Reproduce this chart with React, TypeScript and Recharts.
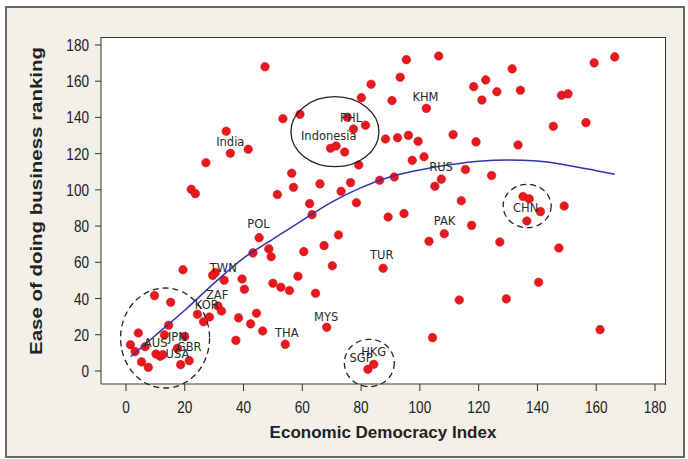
import React from "react";
import { ScatterChart, Scatter, XAxis, YAxis, ReferenceDot } from "recharts";

// Economic Democracy Index (x) vs Ease of doing business ranking (y)
const pointsX = [
  47.3, 53.4, 59.2, 34.1, 35.5, 41.6, 27.2, 22.2, 23.6, 56.4, 57.0, 51.5,
  95.4, 106.4, 93.3, 83.4, 118.3, 80.1, 90.5, 102.2, 75.3, 77.4, 81.5, 69.6,
  71.5, 74.4, 88.3, 92.4, 96.1, 99.4, 111.3, 119.1, 79.2, 97.4, 101.4, 115.5,
  66.0, 76.4, 86.3, 91.3, 73.2, 107.3, 105.1, 78.4, 62.5, 114.1, 166.3, 159.3,
  131.4, 122.4, 126.2, 121.1, 134.2, 148.2, 150.4, 145.4, 156.5, 133.4, 124.4, 135.1,
  137.2, 149.1, 141.0, 136.4, 117.6, 127.2, 147.3, 140.4, 129.4, 161.3, 63.3, 89.2,
  94.6, 108.3, 103.1, 72.3, 67.4, 60.5, 87.5, 70.2, 58.5, 52.7, 55.6, 64.5,
  113.4, 68.3, 54.2, 104.3, 82.3, 84.3, 45.3, 43.2, 48.6, 49.4, 19.4, 29.5,
  30.4, 33.4, 39.5, 40.3, 50.0, 9.7, 15.2, 24.3, 26.4, 28.4, 31.3, 32.5,
  38.3, 44.4, 42.4, 46.5, 37.4, 14.5, 4.2, 13.1, 20.0, 1.5, 6.5, 3.1,
  17.5, 10.2, 11.6, 12.5, 5.3, 7.6, 18.6, 21.5,
];
const pointsY = [
  168.0, 139.3, 141.7, 132.4, 120.2, 122.4, 115.0, 100.3, 97.9, 109.2, 101.4, 97.4,
  171.9, 173.9, 162.2, 158.3, 157.0, 150.9, 149.3, 145.0, 140.1, 133.6, 135.7, 123.0,
  124.2, 120.9, 128.1, 128.8, 130.1, 126.8, 130.5, 126.5, 113.7, 116.3, 118.3, 111.2,
  103.3, 104.0, 105.3, 107.1, 99.2, 105.9, 102.0, 92.9, 92.4, 94.0, 173.4, 170.1,
  166.8, 160.7, 154.2, 149.6, 155.0, 152.2, 153.0, 135.1, 137.1, 124.8, 107.9, 96.3,
  95.0, 91.1, 88.0, 82.8, 80.4, 71.2, 67.9, 49.0, 39.8, 22.8, 86.3, 85.0,
  86.9, 75.8, 71.6, 75.1, 69.2, 65.9, 56.7, 58.1, 52.3, 46.2, 44.4, 42.9,
  39.2, 24.1, 14.7, 18.4, 0.9, 3.7, 73.6, 65.2, 67.4, 63.1, 55.9, 52.8,
  54.3, 50.1, 50.8, 45.1, 48.4, 41.6, 37.9, 31.3, 27.2, 29.8, 35.9, 33.1,
  29.3, 31.9, 26.0, 22.1, 16.9, 25.2, 21.0, 19.9, 19.1, 14.5, 13.4, 10.7,
  12.5, 9.4, 8.1, 9.0, 5.0, 2.0, 3.5, 5.7,
];

// fitted trend curve
const fitX = [1.6, 10, 20, 30, 40, 50, 60, 70, 80, 90, 100, 110, 120, 130, 140, 150, 160, 166.3];
const fitY = [7.9, 19.6, 33.5, 48.5, 62.3, 72.8, 83.2, 93.2, 101.2, 107.2, 111.0, 113.8, 115.8, 116.5, 115.9, 113.6, 110.6, 108.6];

// country annotations
const labelNames = ["India", "Indonesia", "PHL", "KHM", "RUS", "CHN", "PAK", "TUR", "POL", "TWN", "ZAF", "KOR", "JPN", "AUS", "GBR", "USA", "THA", "MYS", "HKG", "SGP"];
const labelX = [35.5, 69.0, 76.6, 101.9, 107.2, 136.0, 108.4, 87.0, 45.1, 33.1, 31.0, 27.5, 17.5, 10.1, 21.5, 17.5, 54.7, 68.1, 84.3, 80.0];
const labelY = [126.6, 129.8, 139.5, 151.5, 112.8, 89.8, 82.8, 64.1, 81.2, 56.7, 42.0, 36.4, 18.9, 15.3, 13.1, 9.2, 20.8, 30.0, 10.7, 7.4];

// highlight circles (centres in data units)
const ringX = [71.1, 13.3, 82.8, 136.5];
const ringY = [132.1, 18.2, 4.4, 91.1];
const ringDashed = [false, true, true, true];

const xTicks = [0, 20, 40, 60, 80, 100, 120, 140, 160, 180];
const yTicks = [0, 20, 40, 60, 80, 100, 120, 140, 160, 180];

const ringSize: Record<number, [number, number]> = { 0: [44, 35], 1: [44.5, 50], 2: [25, 23.7], 3: [24, 21.7] };

const points = pointsX.map((x, i) => ({ x, y: pointsY[i] }));
const fit = fitX.map((x, i) => ({ x, y: fitY[i] }));
const labels = labelNames.map((name, i) => ({ x: labelX[i], y: labelY[i], name }));

const XTick = (props: any) => {
  const { x, y, payload } = props;
  return (
    <g transform={`translate(${x},${y})`}>
      <text x={0} y={0} dy={12} textAnchor="middle" fontSize={17} fontFamily="'Liberation Sans', Arial, sans-serif" fill="#222" transform="scale(0.8,1)">
        {payload.value}
      </text>
    </g>
  );
};

const YTick = (props: any) => {
  const { x, y, payload } = props;
  return (
    <g transform={`translate(${x},${y})`}>
      <text x={0} y={0} dy={6} textAnchor="end" fontSize={17} fontFamily="'Liberation Sans', Arial, sans-serif" fill="#222" transform="scale(0.8,1)">
        {payload.value}
      </text>
    </g>
  );
};

const Dot = (p: any) => (
  <circle cx={p.cx} cy={p.cy} r={4.3} fill="#e8191e" stroke="#d01018" strokeWidth={0.5} />
);

const LabelText = (p: any) => (
  <text x={p.cx} y={p.cy} dy={4} textAnchor="middle" fontSize={11.5} fontFamily="'DejaVu Sans', sans-serif" fill="#2a2a2a">
    {p.payload.name}
  </text>
);

export default function App() {
  return (
    <div style={{ position: "absolute", left: 0, top: 0, width: 688, height: 459, background: "#ffffff", overflow: "hidden" }}>
      <div style={{ position: "absolute", left: 5, top: 6, width: 676, height: 448, background: "#f2f0e9", border: "2px solid #666" }} />
      <div style={{ position: "absolute", left: 101, top: 37, width: 564, height: 347, background: "#ffffff", borderTop: "1px solid #333", borderRight: "1px solid #333" }} />
      <div style={{ position: "absolute", left: 0, top: 0 }}>
        <ScatterChart width={688} height={459} margin={{ top: 37, right: 23, bottom: 35, left: 0 }}>
          <XAxis
            type="number"
            dataKey="x"
            domain={[-8.5, 183.4]}
            ticks={xTicks}
            allowDataOverflow
            height={40}
            tickSize={7}
            tickMargin={10}
            tick={<XTick />}
            axisLine={{ stroke: "#333" }}
            tickLine={{ stroke: "#333" }}
            label={{
              content: (p: any) => {
                const vb = p.viewBox || { x: 101, y: 384, width: 564 };
                return (
                  <text x={vb.x + vb.width / 2} y={vb.y + 54} textAnchor="middle" fontSize={17} fontWeight="bold" fontFamily="'Liberation Sans', Arial, sans-serif" fill="#222">
                    Economic Democracy Index
                  </text>
                );
              },
            }}
          />
          <YAxis
            type="number"
            dataKey="y"
            domain={[-7.2, 184.4]}
            ticks={yTicks}
            allowDataOverflow
            width={101}
            tickSize={6}
            tickMargin={6}
            tick={<YTick />}
            axisLine={{ stroke: "#333" }}
            tickLine={{ stroke: "#333" }}
            label={{
              content: () => (
                <text x={42} y={201} transform="rotate(-90, 42, 201)" textAnchor="middle" fontSize={16} fontWeight="bold" fontFamily="'Liberation Sans', Arial, sans-serif" fill="#222" textLength={308} lengthAdjust="spacingAndGlyphs">
                  Ease of doing business ranking
                </text>
              ),
            }}
          />
          <Scatter data={points} shape={Dot} isAnimationActive={false} />
          <Scatter
            data={fit}
            shape={() => null}
            line={{ stroke: "#3232b4", strokeWidth: 1.5 }}
            lineJointType="monotoneX"
            isAnimationActive={false}
          />
          <Scatter data={labels} shape={LabelText} isAnimationActive={false} />
          {ringX.map((rx, i) => (
            <ReferenceDot
              key={i}
              x={rx}
              y={ringY[i]}
              shape={(p: any) => (
                <ellipse
                  cx={p.cx}
                  cy={p.cy}
                  rx={ringSize[i][0]}
                  ry={ringSize[i][1]}
                  fill="none"
                  stroke="#222"
                  strokeWidth={1.3}
                  strokeDasharray={ringDashed[i] ? "6 4" : undefined}
                />
              )}
            />
          ))}
        </ScatterChart>
      </div>
    </div>
  );
}
